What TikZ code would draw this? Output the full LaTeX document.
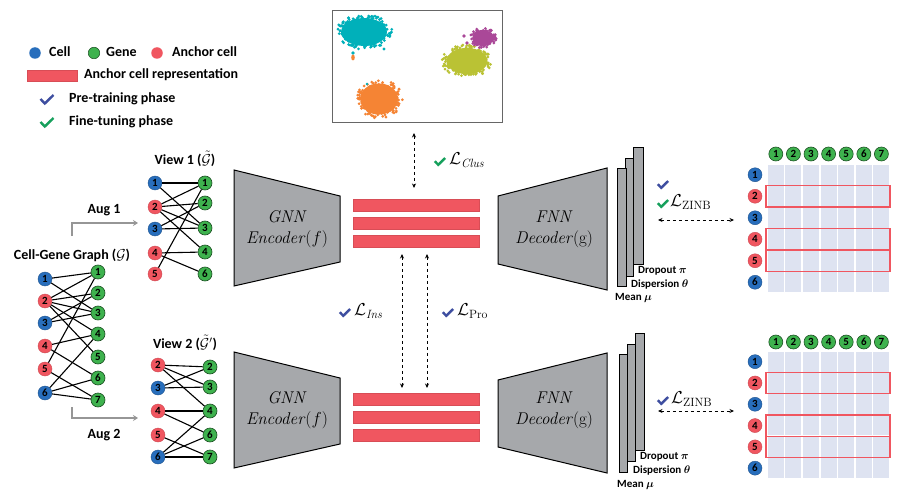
\documentclass[tikz,border=0pt]{standalone}
\usepackage{bm}
\usepackage[no-math]{fontspec}
\newfontfamily\cfont{Carlito}
\usetikzlibrary{arrows.meta,calc}
\definecolor{cblue}{RGB}{40,110,188}
\definecolor{cgreen}{RGB}{62,178,78}
\definecolor{cred}{RGB}{240,86,96}
\definecolor{encgray}{RGB}{166,168,171}
\definecolor{chkblue}{RGB}{62,78,160}
\definecolor{chkgreen}{RGB}{22,160,92}
\definecolor{matfill}{RGB}{222,227,241}
\definecolor{sccyan}{RGB}{0,176,186}
\definecolor{scorange}{RGB}{245,132,52}
\definecolor{scpurple}{RGB}{170,72,152}
\definecolor{scolive}{RGB}{186,194,52}
\definecolor{auggray}{RGB}{150,150,150}
\newcommand\myblob[6]{%
  \fill[#5] (#1,#2) ellipse [x radius=#3*0.82, y radius=#4*0.82];
  \foreach \k in {1,...,#6}{%
    \pgfmathsetmacro\aa{360*rnd}%
    \pgfmathsetmacro\rr{0.7+0.32*rnd}%
    \fill[#5] ({#1+#3*\rr*cos(\aa)},{#2+#4*\rr*sin(\aa)}) circle (1.5);
  }}
\tikzset{
  nbase/.style={circle, inner sep=0pt, minimum size=14pt, text=black,
    font=\cfont\bfseries\fontsize{11}{11}\selectfont},
  cb/.style={nbase, fill=cblue, draw=cblue!75!black, line width=0.4pt},
  cg/.style={nbase, fill=cgreen, draw=cgreen!45!black, line width=0.6pt},
  cr/.style={nbase, fill=cred, draw=cred!85!black, line width=0.4pt},
  ldot/.style={circle, inner sep=0pt, minimum size=11.5pt},
  edge/.style={line width=1.1pt, black},
  lbl/.style={font=\cfont\bfseries\fontsize{14}{16}\selectfont, inner sep=0pt},
  slbl/.style={font=\cfont\bfseries\fontsize{11}{12}\selectfont, inner sep=0pt, anchor=west},
  loss/.style={font=\fontsize{18.5}{20}\selectfont, inner sep=0pt, anchor=west},
  enctext/.style={font=\fontsize{17}{20}\selectfont, align=center, inner sep=0pt},
  shapebox/.style={fill=encgray, draw=black, line width=1pt},
  layerbox/.style={fill=encgray, draw=black, line width=0.9pt},
  bar/.style={fill=cred, draw=cred!90!black, line width=0.4pt, minimum width=126pt, minimum height=12pt, inner sep=0pt},
  dbl/.style={dashed, line width=0.8pt, {Stealth[length=4.5pt,width=4pt]}-{Stealth[length=4.5pt,width=4pt]}},
  augarrow/.style={auggray, line width=1.5pt, -{Stealth[length=5pt,width=6pt]}},
  redline/.style={draw=cred, line width=1.2pt},
  pics/chk/.style={code={\draw[line width=2.4pt, line join=miter, #1] (-6.5,-1)--(-2.2,3.5)--(6.5,-5);}}
}
\begin{document}
\begin{tikzpicture}[x=1pt,y=-1pt]
\useasboundingbox (0,0) rectangle (901,497);
\fill[white] (0,0) rectangle (901,497);

% ---------- legend ----------
\node[ldot, fill=cblue] (lgc) at (35,53) {};
\node[lbl, anchor=west] (lgct) at (49,52) {Cell};
\node[ldot, fill=cgreen, draw=cgreen!45!black, line width=0.5pt] (lgg) at (94,53) {};
\node[lbl, anchor=west] (lggt) at (106,52) {Gene};
\node[ldot, fill=cred] (lga) at (157,53) {};
\node[lbl, anchor=west] (lgat) at (172,52) {Anchor cell};
\node[fill=cred, draw=cred!90!black, minimum width=50pt, minimum height=11pt, inner sep=0pt] (lgb) at (52,75.5) {};
\node[lbl, anchor=west] (lgbt) at (84,75) {Anchor cell representation};
\pic at (47,100) {chk=chkblue};
\node[lbl, anchor=west] (lgpt) at (69,99) {Pre-training phase};
\pic at (47,123) {chk=chkgreen};
\node[lbl, anchor=west] (lgft) at (69,122) {Fine-tuning phase};

% ---------- scatter ----------
\draw[draw=black!60, line width=0.9pt, fill=white] (332,10) rectangle (502,122);
\pgfmathsetseed{11}
\myblob{364}{32}{28}{17}{sccyan}{130}
\myblob{379}{99}{23}{19}{scorange}{110}
\myblob{467}{61}{25}{16}{scolive}{110}
\myblob{483}{38}{13}{10}{scpurple}{60}
\fill[sccyan] (353,53) circle (1.8);
\fill[scorange] (353,57.5) ellipse [x radius=1.8, y radius=3];
\fill[scpurple] (464,36) circle (1.8);
\fill[scpurple] (467,43) circle (1.8);
\fill[sccyan] (384,49) circle (1.6);
\fill[sccyan] (367,84) circle (1.4);

% ---------- Cell-Gene graph ----------
\node[lbl] (g0t) at (72,255) {Cell-Gene Graph ($\mathcal{G}$)};
\foreach \i/\y/\s in {1/279/cb,2/301/cr,3/323/cb,4/346/cr,5/369/cr,6/393/cb}
  \node[\s] (Gc\i) at (45,\y) {\i};
\foreach \i/\y in {1/272,2/293,3/313,4/334,5/357,6/378,7/400}
  \node[cg] (Gg\i) at (98,\y) {\i};
\foreach \a/\b in {1/1,1/3,2/1,2/2,2/3,2/4,2/5,3/2,3/3,4/4,4/6,5/1,5/7,6/4,6/6,6/7}
  \draw[edge] (Gc\a) -- (Gg\b);

% ---------- View 1 ----------
\node[lbl] (v1t) at (185,159) {View 1 ($\tilde{\mathcal{G}}$)};
\foreach \i/\y/\s in {1/183/cb,2/207/cr,3/229/cb,4/253/cr,5/274/cr}
  \node[\s] (Ac\i) at (155,\y) {\i};
\foreach \i/\y in {1/183,2/203,3/228,4/252,6/274}
  \node[cg] (Ag\i) at (205,\y) {\i};
\foreach \a/\b in {1/1,1/3,2/1,2/2,2/3,2/4,3/2,3/3,4/4,4/6,5/1}
  \draw[edge] (Ac\a) -- (Ag\b);

% ---------- View 2 ----------
\node[lbl] (v2t) at (185,343) {View 2 ($\tilde{\mathcal{G}}'$)};
\foreach \i/\y/\s in {2/365/cr,3/388/cb,4/411/cr,5/435/cr,6/457/cb}
  \node[\s] (Bc\i) at (158,\y) {\i};
\foreach \i/\y in {2/367,3/387,4/411,6/435,7/457}
  \node[cg] (Bg\i) at (210,\y) {\i};
\foreach \a/\b in {2/2,2/3,2/4,3/2,3/3,4/4,4/6,5/7,6/4,6/6,6/7}
  \draw[edge] (Bc\a) -- (Bg\b);

% ---------- Aug arrows ----------
\coordinate (a1s) at (72,236);
\coordinate (a1e) at (138,223);
\draw[augarrow] (a1s) |- (a1e);
\node[lbl] (a1t) at (104,210) {Aug 1};
\coordinate (a2s) at (72,407);
\coordinate (a2e) at (138,418);
\draw[augarrow] (a2s) |- (a2e);
\node[lbl] (a2t) at (104,435) {Aug 2};

% ---------- Encoders ----------
\draw[shapebox] (234,170) -- (340,196) -- (340,262) -- (234,286) -- cycle;
\node[enctext] (enc1) at (287,229) {\textit{GNN}\\[1pt]\textit{Encoder}$(f)$};
\draw[shapebox] (234,352) -- (340,378) -- (340,444) -- (234,468) -- cycle;
\node[enctext] (enc2) at (287,410) {\textit{GNN}\\[1pt]\textit{Encoder}$(f)$};

% ---------- Bars ----------
\node[bar] (tb1) at (416,205) {};
\node[bar] (tb2) at (416,223) {};
\node[bar] (tb3) at (416,241) {};
\node[bar] (bb1) at (416,399) {};
\node[bar] (bb2) at (416,417) {};
\node[bar] (bb3) at (416,435) {};

% ---------- Decoders ----------
\draw[shapebox] (498,196) -- (607,168) -- (607,290) -- (498,264) -- cycle;
\node[enctext] (dec1) at (554,229) {\textit{FNN}\\[1pt]\textit{Decoder}(g)};
\draw[shapebox] (498,380) -- (607,353) -- (607,473) -- (498,447) -- cycle;
\node[enctext] (dec2) at (554,410) {\textit{FNN}\\[1pt]\textit{Decoder}(g)};

% ---------- output layers ----------
\draw[layerbox] (633,147) rectangle (643,264);
\draw[layerbox] (625,158) rectangle (633,276);
\draw[layerbox] (617,168) rectangle (626,286);
\node[slbl] (td) at (638,271) {Dropout $\bm{\pi}$};
\node[slbl] (tdi) at (631,285) {Dispersion $\bm{\theta}$};
\node[slbl] (tm) at (615,298) {Mean $\bm{\mu}$};
\draw[layerbox] (635,333) rectangle (644,450);
\draw[layerbox] (627,344) rectangle (635,461);
\draw[layerbox] (619,354) rectangle (627,472);
\node[slbl] (bd) at (640,457) {Dropout $\bm{\pi}$};
\node[slbl] (bdi) at (633,471) {Dispersion $\bm{\theta}$};
\node[slbl] (bm) at (617,485) {Mean $\bm{\mu}$};

% ---------- losses ----------
\coordinate (clA) at (414,133);
\coordinate (clB) at (414,188);
\draw[dbl] (clA) -- (clB);
\pic[scale=0.8] at (440,162) {chk=chkgreen};
\node[loss] (lclus) at (449,160) {$\mathcal{L}_{\mathit{Clus}}$};

\coordinate (inA) at (402,254);
\coordinate (inB) at (402,388);
\draw[dbl] (inA) -- (inB);
\coordinate (prA) at (427,254);
\coordinate (prB) at (427,388);
\draw[dbl] (prA) -- (prB);
\pic[scale=0.8] at (345,313) {chk=chkblue};
\node[loss] (lins) at (354,311) {$\mathcal{L}_{\mathit{Ins}}$};
\pic[scale=0.8] at (448,313) {chk=chkblue};
\node[loss] (lpro) at (457,311) {$\mathcal{L}_{\mathrm{Pro}}$};

\pic[scale=0.8] at (663,185) {chk=chkblue};
\pic[scale=0.8] at (663,204) {chk=chkgreen};
\node[loss] (lz1) at (670,202) {$\mathcal{L}_{\mathrm{ZINB}}$};
\coordinate (z1A) at (658,220);
\coordinate (z1B) at (734,220);
\draw[dbl] (z1A) -- (z1B);

\pic[scale=0.8] at (663,401) {chk=chkblue};
\node[loss] (lz2) at (671,399) {$\mathcal{L}_{\mathrm{ZINB}}$};
\coordinate (z2A) at (658,411);
\coordinate (z2B) at (734,411);
\draw[dbl] (z2A) -- (z2B);

% ---------- matrices ----------
\foreach \r/\s in {1/cb,2/cr,3/cb,4/cr,5/cr,6/cb}{
  \node[\s] (Tc\r) at (755,{164+21.5*(\r-0.5)}) {\r};
  \foreach \c in {1,...,7}
    \fill[matfill] ({767+17.6*(\c-1)+0.8},{164+21.5*(\r-1)+0.8}) rectangle ({767+17.6*\c-0.8},{164+21.5*\r-0.8});
}
\foreach \c in {1,...,7}
  \node[cg] (Tg\c) at ({767+17.6*(\c-0.5)},154) {\c};
\foreach \r in {2,4,5}
  \draw[redline] (766,{164+21.5*(\r-1)}) rectangle (890,{164+21.5*\r});

\foreach \r/\s in {1/cb,2/cr,3/cb,4/cr,5/cr,6/cb}{
  \node[\s] (Bmc\r) at (755,{351+21.3*(\r-0.5)}) {\r};
  \foreach \c in {1,...,7}
    \fill[matfill] ({767+17.6*(\c-1)+0.8},{351+21.3*(\r-1)+0.8}) rectangle ({767+17.6*\c-0.8},{351+21.3*\r-0.8});
}
\foreach \c in {1,...,7}
  \node[cg] (Bmg\c) at ({767+17.6*(\c-0.5)},342) {\c};
\foreach \r in {2,4,5}
  \draw[redline] (766,{351+21.3*(\r-1)}) rectangle (890,{351+21.3*\r});
\end{tikzpicture}
\end{document}
